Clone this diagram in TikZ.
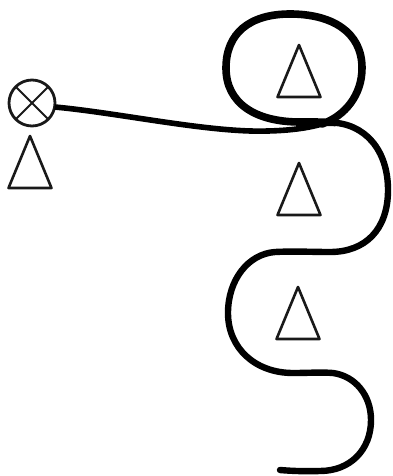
\documentclass[tikz,border=0pt]{standalone}
\usetikzlibrary{calc}
\tikzset{
  wire/.style={line width=6.4pt,line cap=round,line join=round,black},
  tri/.style={line width=2.6pt,line join=round,draw=black!90},
  mixer/.style={circle,draw=black!90,line width=2.8pt,minimum size=46pt,inner sep=0pt,outer sep=0pt}
}
\begin{document}
\begin{tikzpicture}[x=1pt,y=-1pt]
\useasboundingbox (0,0) rectangle (392,476);
% mixer
\node[mixer] (m) at (32,103) {};
\draw[line width=1.9pt,black!90] (m.45) -- (m.225) (m.135) -- (m.315);
% triangles
\foreach \x/\y in {30/136, 299/45, 299/163, 298/287}{
  \draw[tri] (\x,\y) -- ++(21.5,52) -- ++(-43,0) -- cycle;
}
% wire
\coordinate (a) at (m.-10);
\draw[wire,line width=5.6pt,line cap=butt]
  (a) .. controls (120,113) and (210,133) .. (268,131)
  .. controls (290,130.5) and (310,128) .. (325,123);
\draw[wire,line width=7.6pt]
  (322,124) .. controls (345,116) and (362,95) .. (362,68)
  .. controls (362,32) and (332,14) .. (290,14)
  .. controls (250,14) and (226,33) .. (226,68)
  .. controls (226,103) and (255,122) .. (300,122)
  .. controls (315,122) and (325,122) .. (335,122.5);
\draw[wire]
  (330,122.5) .. controls (365,123) and (388,150) .. (388,190)
  .. controls (388,230) and (365,252) .. (330,252)
  .. controls (310,252) and (295,251) .. (275,252)
  .. controls (248,254) and (228,280) .. (228,313)
  .. controls (228,348) and (255,373) .. (293,373)
  .. controls (310,373) and (320,372) .. (333,373)
  .. controls (355,376) and (371,395) .. (371,420)
  .. controls (371,450) and (350,471) .. (320,471)
  .. controls (305,471.5) and (292,471) .. (280,470);
\end{tikzpicture}
\end{document}
